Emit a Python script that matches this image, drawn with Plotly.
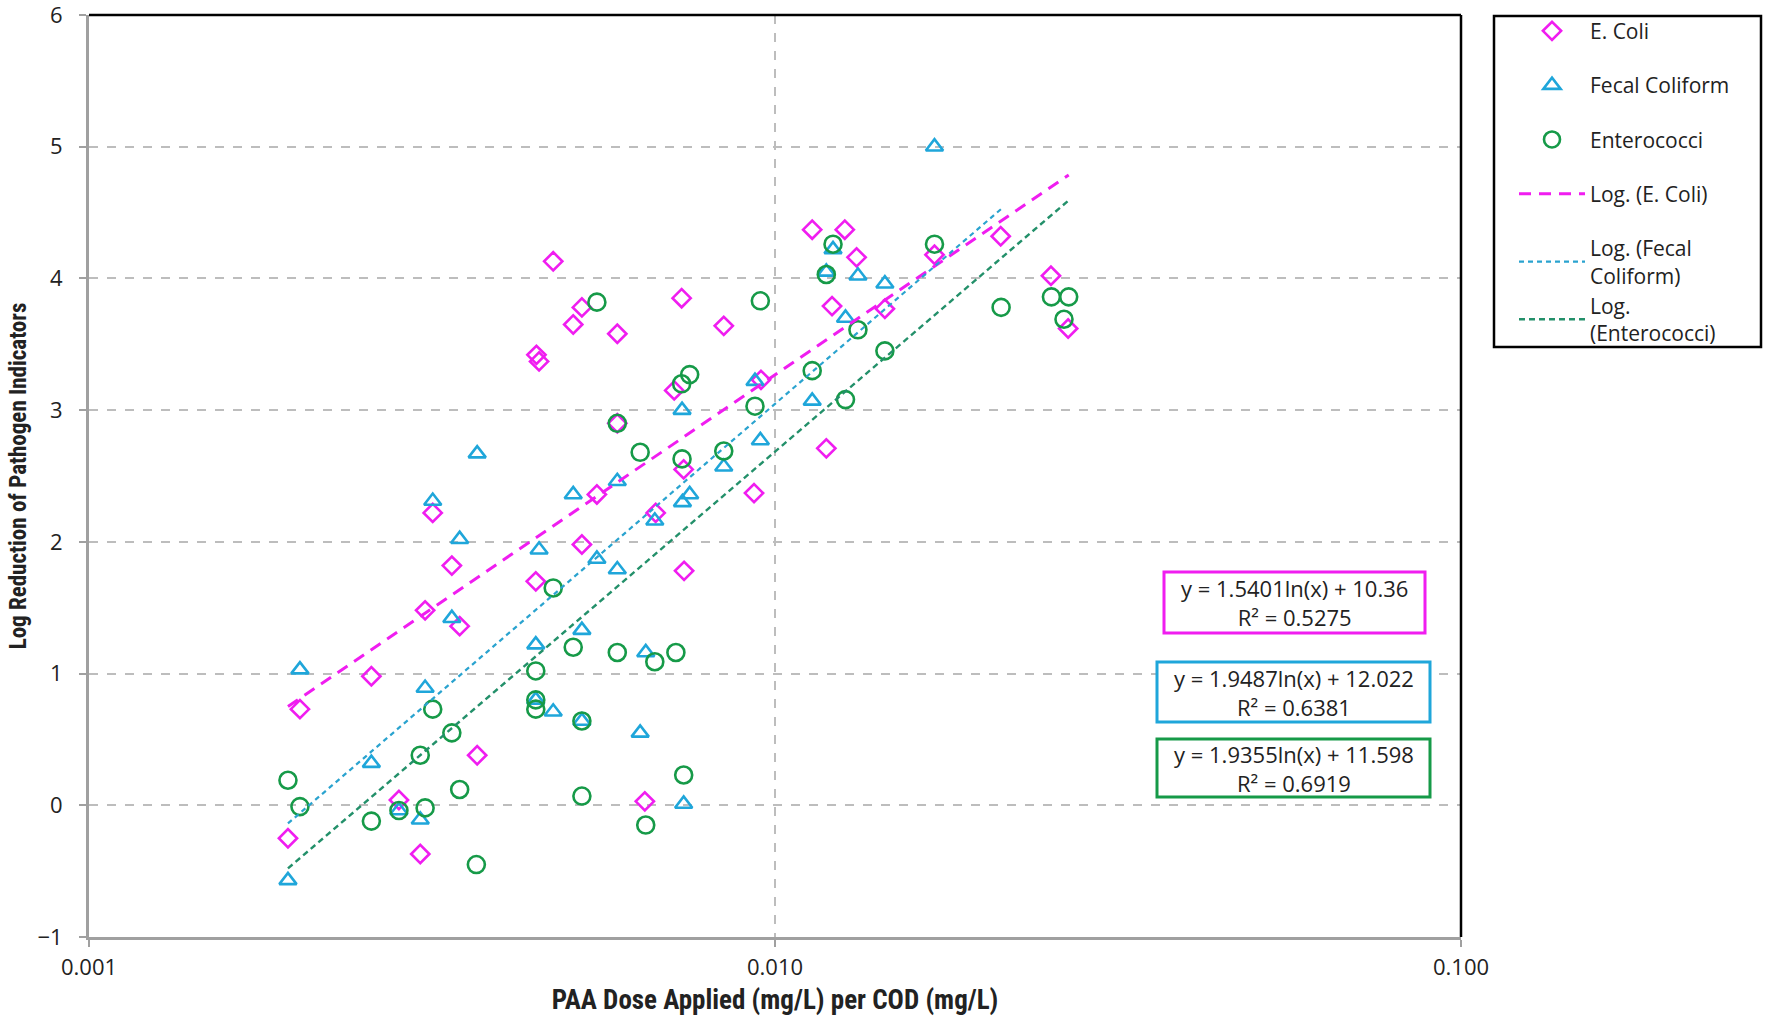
import math
import plotly.graph_objects as go

# ---------------- data ----------------
ecoli_x = [0.00195, 0.00203, 0.00258, 0.00283, 0.00304, 0.00309, 0.00317, 0.00338, 0.00347, 0.00368,
           0.00449, 0.00453, 0.00448, 0.00475, 0.00508, 0.00523, 0.00523, 0.00550, 0.00589, 0.00589,
           0.00646, 0.00670, 0.00713, 0.00731, 0.00737, 0.00736, 0.00842, 0.00932, 0.00954, 0.01133,
           0.01188, 0.01211, 0.01264, 0.01315, 0.01446, 0.01708, 0.02133, 0.02525, 0.02675]
ecoli_y = [-0.25, 0.73, 0.98, 0.04, -0.37, 1.48, 2.22, 1.82, 1.36, 0.38,
           3.42, 3.37, 1.70, 4.13, 3.65, 3.78, 1.98, 2.36, 3.58, 2.90,
           0.03, 2.22, 3.15, 3.85, 1.78, 2.55, 3.64, 2.37, 3.23, 4.37,
           2.71, 3.79, 4.37, 4.16, 3.77, 4.18, 4.32, 4.02, 3.62]

fecal_x = [0.00195, 0.00203, 0.00258, 0.00283, 0.00304, 0.00309, 0.00317, 0.00338, 0.00347, 0.00368,
           0.00448, 0.00453, 0.00448, 0.00475, 0.00508, 0.00523, 0.00523, 0.00550, 0.00589, 0.00589,
           0.00636, 0.00648, 0.00668, 0.00732, 0.00733, 0.00751, 0.00736, 0.00842, 0.00935, 0.00952,
           0.01133, 0.01188, 0.01215, 0.01267, 0.01321, 0.01446, 0.01708]
fecal_y = [-0.57, 1.03, 0.32, -0.04, -0.11, 0.89, 2.31, 1.42, 2.02, 2.67,
           1.22, 1.94, 0.80, 0.71, 2.36, 1.33, 0.64, 1.87, 2.46, 1.79,
           0.55, 1.16, 2.16, 3.00, 2.30, 2.36, 0.01, 2.57, 3.22, 2.77,
           3.07, 4.05, 4.22, 3.70, 4.02, 3.96, 5.00]

entero_x = [0.00195, 0.00203, 0.00258, 0.00283, 0.00304, 0.00309, 0.00317, 0.00338, 0.00347, 0.00367,
            0.00448, 0.00448, 0.00448, 0.00475, 0.00508, 0.00523, 0.00523, 0.00550, 0.00589, 0.00589,
            0.00636, 0.00648, 0.00668, 0.00717, 0.00736, 0.00732, 0.00731, 0.00751, 0.00842, 0.00935,
            0.00952, 0.01133, 0.01188, 0.01215, 0.01267, 0.01321, 0.01446, 0.01708, 0.02136, 0.02529,
            0.02680, 0.02638]
entero_y = [0.19, -0.01, -0.12, -0.04, 0.38, -0.02, 0.73, 0.55, 0.12, -0.45,
            1.02, 0.80, 0.73, 1.65, 1.20, 0.64, 0.07, 3.82, 2.90, 1.16,
            2.68, -0.15, 1.09, 1.16, 0.23, 2.63, 3.20, 3.27, 2.69, 3.03,
            3.83, 3.30, 4.03, 4.26, 3.08, 3.61, 3.45, 4.26, 3.78, 3.86,
            3.86, 3.69]

# logarithmic trend lines y = a*ln(x) + b (coefficients and R² shown on the chart)
ecoli_fit = (1.5401, 10.36, 0.5275)
fecal_fit = (1.9487, 12.022, 0.6381)
entero_fit = (1.9355, 11.598, 0.6919)
ecoli_fit_x = [0.00195, 0.0268]
fecal_fit_x = [0.00195, 0.0214]
entero_fit_x = [0.00195, 0.0268]

x_tickvals = [0.001, 0.01, 0.1]
x_ticktext = ["0.001", "0.010", "0.100"]
y_tickvals = [-1, 0, 1, 2, 3, 4, 5, 6]


def fit_y(xs, fit):
    a, b, _ = fit
    return [a * math.log(v) + b for v in xs]


MAG = "#F01DF0"
BLU = "#1FA6DA"
GRN = "#169A48"
BLU_L = "#2AA3CF"
GRN_L = "#23906A"

LEG_FONT = "Open Sans, Noto Sans, sans-serif"
TITLE_FONT = "Liberation Sans Narrow, Roboto Condensed, Arial Narrow, Liberation Sans, sans-serif"

fig = go.Figure()
fig.add_trace(go.Scatter(x=ecoli_x, y=ecoli_y, mode="markers", name="E. Coli", legendgroup="a",
                         marker=dict(symbol="diamond-open", size=14, color=MAG, line=dict(width=2.6, color=MAG))))
fig.add_trace(go.Scatter(x=fecal_x, y=fecal_y, mode="markers", name="Fecal Coliform", legendgroup="b",
                         marker=dict(symbol="triangle-up-open", size=15, color=BLU, line=dict(width=2.6, color=BLU))))
fig.add_trace(go.Scatter(x=entero_x, y=entero_y, mode="markers", name="Enterococci", legendgroup="c",
                         marker=dict(symbol="circle-open", size=17, color=GRN, line=dict(width=2.6, color=GRN))))
fig.add_trace(go.Scatter(x=ecoli_fit_x, y=fit_y(ecoli_fit_x, ecoli_fit), mode="lines", name="Log. (E. Coli)",
                         legendgroup="d", line=dict(color=MAG, width=3, dash="12px,8px")))
fig.add_trace(go.Scatter(x=fecal_fit_x, y=fit_y(fecal_fit_x, fecal_fit), mode="lines",
                         name="Log. (Fecal<br>Coliform)", legendgroup="e",
                         line=dict(color=BLU_L, width=2.2, dash="5px,4px")))
fig.add_trace(go.Scatter(x=entero_fit_x, y=fit_y(entero_fit_x, entero_fit), mode="lines",
                         name="Log.<br>(Enterococci)", legendgroup="e",
                         line=dict(color=GRN_L, width=2.4, dash="6px,4px")))

# plot area in pixels: x 89..1461, y 15..937
PL, PR, PT, PB = 89, 1461, 15, 937
W, H = 1768, 1017


def px(xp):
    return (xp - PL) / (PR - PL)


def py(yp):
    return (PB - yp) / (PB - PT)


shapes = [
    dict(type="line", xref="paper", yref="paper", x0=0, x1=1, y0=1, y1=1, line=dict(color="black", width=2.5)),
    dict(type="line", xref="paper", yref="paper", x0=1, x1=1, y0=0, y1=1, line=dict(color="black", width=2.5)),
    # legend frame
    dict(type="rect", xref="paper", yref="paper", x0=px(1494), x1=px(1761), y0=py(347), y1=py(16),
         line=dict(color="black", width=2.5), fillcolor="rgba(0,0,0,0)"),
]
boxes = [
    ((1164, 572, 1425, 633), MAG, ecoli_fit),
    ((1157, 662, 1430, 722), BLU, fecal_fit),
    ((1157, 739, 1430, 797), GRN, entero_fit),
]
annotations = []
for (x0, y0, x1, y1), col, fit in boxes:
    shapes.append(dict(type="rect", xref="paper", yref="paper", x0=px(x0), x1=px(x1), y0=py(y1), y1=py(y0),
                       line=dict(color=col, width=3), fillcolor="white", layer="above"))
    a, b, r2 = fit
    txt = f"y = {a:.4f}ln(x) + {b:g}<br>R² = {r2:.4f}"
    annotations.append(dict(xref="paper", yref="paper", x=px((x0 + x1) / 2), y=py((y0 + y1) / 2),
                            text=txt, showarrow=False, font=dict(family=LEG_FONT, size=22, color="#222"),
                            align="center", xanchor="center", yanchor="middle"))

fig.update_layout(
    width=W, height=H,
    margin=dict(l=PL, r=W - PR, t=PT, b=H - PB, autoexpand=False),
    plot_bgcolor="white", paper_bgcolor="white",
    showlegend=True,
    legend=dict(x=px(1514), y=py(10.7), xanchor="left", yanchor="top", borderwidth=0,
                bgcolor="rgba(0,0,0,0)", font=dict(family=LEG_FONT, size=21, color="#222"),
                tracegroupgap=24, itemwidth=66),
    shapes=shapes,
    annotations=annotations,
    xaxis=dict(type="log", range=[-3, -1], tickvals=x_tickvals, ticktext=x_ticktext, automargin=False,
               showgrid=True, gridcolor="#BDBDBD", gridwidth=1.5, griddash="dash",
               showline=True, linecolor="#A0A0A0", linewidth=3, ticks="outside", ticklen=7,
               tickcolor="#A0A0A0", tickwidth=2, ticklabelstandoff=2, ticklabeloverflow="allow",
               tickfont=dict(family=LEG_FONT, size=22, color="#222"),
               title=dict(text="<b>PAA Dose Applied (mg/L) per COD (mg/L)</b>",
                          font=dict(family=TITLE_FONT, size=27, color="#222"), standoff=10),
               zeroline=False),
    yaxis=dict(range=[-1, 6], tickvals=y_tickvals, showgrid=True, gridcolor="#BDBDBD", gridwidth=1.5,
               griddash="dash", zeroline=False, showline=True, linecolor="#A0A0A0", linewidth=3,
               ticks="outside", ticklen=7, tickcolor="#A0A0A0", tickwidth=2, automargin=False,
               ticklabelstandoff=12, ticklabeloverflow="allow",
               tickfont=dict(family=LEG_FONT, size=22, color="#222"),
               title=dict(text="<b>Log Reduction of Pathogen Indicators</b>",
                          font=dict(family=TITLE_FONT, size=23, color="#222"), standoff=5)),
)

fig.write_html("out.html")
